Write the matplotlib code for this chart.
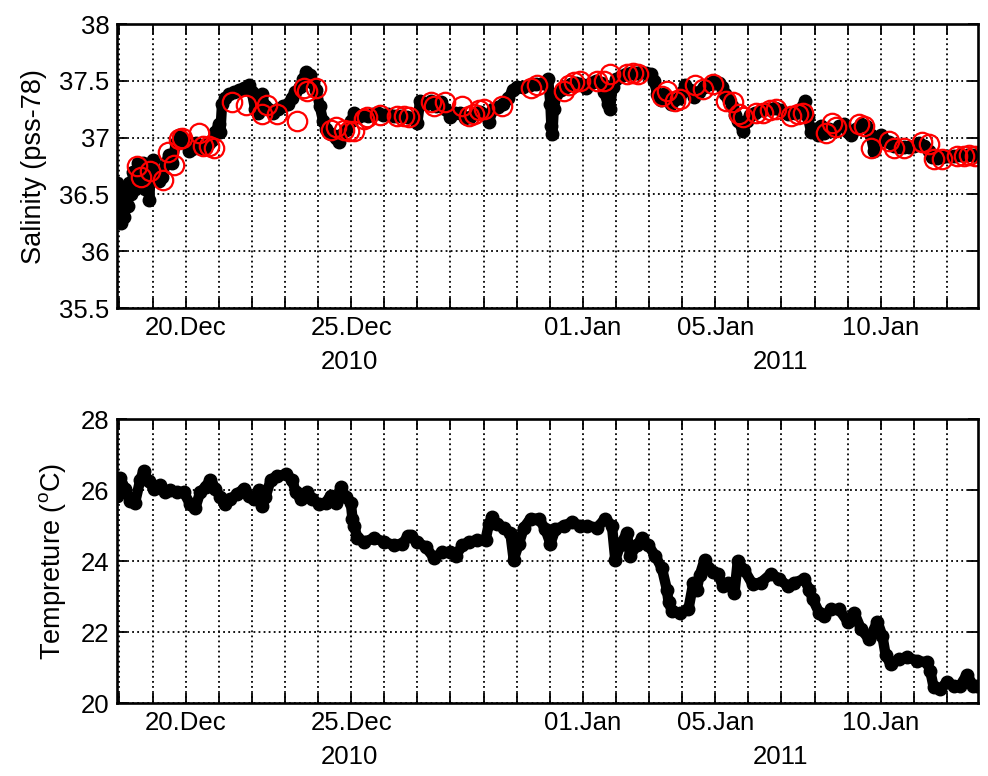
import numpy as np
import matplotlib
matplotlib.use('Agg')
import matplotlib.pyplot as plt
import matplotlib.dates as mdates
from matplotlib.ticker import FuncFormatter, MultipleLocator
from datetime import datetime

plt.rcParams['font.family'] = ['Liberation Sans', 'DejaVu Sans']
plt.rcParams['mathtext.fontset'] = 'custom'
plt.rcParams['mathtext.rm'] = 'Liberation Sans'

# [data: time in days since 2010-12-18 00:00]
sal_t = [-0.07, -0.05, -0.02, 0.00, 0.03, 0.06, 0.10, 0.15, 0.20, 0.25, 0.30, 0.35, 0.42, 0.48,
         0.55, 0.62, 0.70, 0.78, 0.85, 0.90, 0.95, 1.00, 1.10, 1.20, 1.30, 1.40, 1.50, 1.60,
         1.70, 1.80, 1.90, 2.00, 2.10, 2.20, 2.30, 2.40, 2.50, 2.60, 2.70, 2.80, 2.90, 3.00,
         3.05, 3.10, 3.20, 3.30, 3.45, 3.60, 3.75, 3.90, 4.00, 4.10, 4.20, 4.30, 4.40, 4.50,
         4.65, 4.80, 4.95, 5.10, 5.20, 5.30, 5.45, 5.55, 5.65, 5.75, 5.85, 5.95, 6.05, 6.15,
         6.25, 6.40, 6.55, 6.62, 6.70, 6.85, 7.00, 7.10, 7.20, 7.35, 7.50, 7.65, 7.80, 7.95,
         8.10, 8.30, 8.50, 8.70, 8.85, 9.00, 9.08, 9.25, 9.40, 9.55, 9.70, 9.85, 10.00, 10.15,
         10.30, 10.45, 10.60, 10.75, 10.90, 11.05, 11.15, 11.30, 11.45, 11.60, 11.75, 11.88,
         12.00, 12.20, 12.40, 12.60, 12.80, 12.95, 13.02, 13.05, 13.08, 13.12, 13.20, 13.35,
         13.50, 13.65, 13.80, 13.95, 14.10, 14.25, 14.40, 14.55, 14.65, 14.75, 14.82, 14.90,
         15.00, 15.15, 15.30, 15.45, 15.60, 15.75, 15.90, 16.05, 16.15, 16.25, 16.35, 16.45,
         16.55, 16.65, 16.75, 16.90, 17.00, 17.10, 17.25, 17.35, 17.50, 17.65, 17.80, 17.95,
         18.10, 18.20, 18.30, 18.40, 18.50, 18.60, 18.70, 18.80, 18.85, 18.95, 19.05, 19.20,
         19.40, 19.60, 19.80, 20.00, 20.20, 20.40, 20.55, 20.65, 20.72, 20.80, 20.90, 21.00,
         21.10, 21.20, 21.30, 21.45, 21.60, 21.75, 21.90, 22.00, 22.10, 22.25, 22.40, 22.55,
         22.70, 22.80, 22.85, 23.00, 23.10, 23.25, 23.40, 23.55, 23.70, 23.85, 24.00, 24.15,
         24.30, 24.45, 24.55, 24.70, 24.85, 25.00, 25.20, 25.40, 25.60, 25.80, 25.92]
sal_v = [36.60, 36.35, 36.55, 36.30, 36.45, 36.25, 36.40, 36.30, 36.50, 36.40, 36.60, 36.50, 36.70, 36.55,
         36.78, 36.62, 36.78, 36.55, 36.72, 36.45, 36.75, 36.80, 36.70, 36.62, 36.65, 36.78, 36.85, 36.78,
         36.95, 37.02, 37.00, 36.95, 36.88, 36.90, 36.95, 36.92, 36.90, 36.92, 36.95, 36.98, 37.05, 37.12,
         37.05, 37.30, 37.35, 37.38, 37.40, 37.42, 37.44, 37.46, 37.40, 37.25, 37.22, 37.38, 37.28, 37.25,
         37.22, 37.25, 37.28, 37.30, 37.35, 37.40, 37.45, 37.52, 37.58, 37.55, 37.48, 37.42, 37.28, 37.15,
         37.08, 37.03, 37.00, 36.96, 37.02, 37.07, 37.15, 37.22, 37.18, 37.20, 37.19, 37.21, 37.22, 37.20,
         37.21, 37.19, 37.19, 37.18, 37.17, 37.13, 37.32, 37.30, 37.32, 37.28, 37.31, 37.25, 37.18, 37.22,
         37.22, 37.17, 37.18, 37.22, 37.23, 37.20, 37.14, 37.25, 37.27, 37.30, 37.35, 37.42,
         37.45, 37.45, 37.46, 37.47, 37.48, 37.52, 37.30, 37.10, 37.03, 37.25, 37.38, 37.42,
         37.45, 37.47, 37.48, 37.47, 37.44, 37.48, 37.50, 37.48, 37.40, 37.30, 37.25, 37.45,
         37.52, 37.54, 37.56, 37.57, 37.57, 37.58, 37.57, 37.56, 37.50, 37.38, 37.33, 37.38,
         37.35, 37.30, 37.33, 37.35, 37.40, 37.46, 37.42, 37.36, 37.40, 37.45, 37.47, 37.50,
         37.48, 37.45, 37.38, 37.35, 37.28, 37.20, 37.15, 37.10, 37.06, 37.15, 37.20, 37.22,
         37.24, 37.25, 37.26, 37.24, 37.21, 37.22, 37.23, 37.28, 37.32, 37.18, 37.05, 37.08,
         37.02, 37.10, 37.04, 37.08, 37.06, 37.10, 37.12, 37.05, 37.02, 37.08, 37.12, 37.10,
         37.02, 36.88, 37.00, 37.02, 36.98, 36.96, 36.93, 36.92, 36.92, 36.92, 36.93, 36.95,
         36.93, 36.88, 36.83, 36.82, 36.83, 36.84, 36.84, 36.85, 36.85, 36.85, 36.84]

# [bottle samples (red circles)]
bot_t = [0.53, 0.65, 0.91, 1.31, 1.48, 1.66, 1.79, 1.89, 2.39, 2.53, 2.70, 2.85, 3.40, 3.81,
         4.31, 4.46, 4.77, 5.37, 5.58, 5.68, 5.93, 6.38, 6.54, 6.79, 6.94, 7.09, 7.39, 7.49,
         7.88, 8.40, 8.61, 8.76, 9.40, 9.50, 9.85, 10.36, 10.56, 10.71, 10.86, 11.01, 11.56,
         12.42, 12.62, 13.42, 13.57, 13.72, 13.92, 14.43, 14.63, 14.81, 15.33, 15.53, 15.68,
         16.39, 16.54, 16.79, 16.94, 17.39, 17.63, 17.93, 18.33, 18.53, 18.73, 18.83, 19.23,
         19.44, 19.64, 19.84, 20.29, 20.49, 20.64, 21.34, 21.54, 21.64, 22.35, 22.50, 22.70,
         23.25, 23.40, 23.70, 24.25, 24.46, 24.61, 24.86, 25.31, 25.51, 25.66, 25.86]
bot_v = [36.75, 36.65, 36.71, 36.63, 36.87, 36.76, 36.99, 37.00, 37.04, 36.93, 36.93, 36.91, 37.31, 37.29,
         37.21, 37.29, 37.21, 37.15, 37.44, 37.41, 37.44, 37.07, 37.09, 37.07, 37.06, 37.06, 37.16, 37.18,
         37.20, 37.19, 37.19, 37.18, 37.31, 37.28, 37.31, 37.28, 37.19, 37.21, 37.24, 37.25, 37.28,
         37.44, 37.46, 37.41, 37.46, 37.49, 37.50, 37.50, 37.50, 37.56, 37.56, 37.57, 37.56,
         37.37, 37.41, 37.32, 37.34, 37.46, 37.43, 37.47, 37.32, 37.31, 37.21, 37.18, 37.22,
         37.22, 37.24, 37.25, 37.19, 37.21, 37.22, 37.04, 37.13, 37.09, 37.12, 37.10, 36.91,
         36.97, 36.91, 36.91, 36.96, 36.94, 36.81, 36.81, 36.84, 36.84, 36.85, 36.84]

temp_t = [-0.08, 0.02, 0.17, 0.32, 0.47, 0.63, 0.73, 0.88, 1.03, 1.23, 1.38, 1.54, 1.74, 1.94,
          2.14, 2.29, 2.44, 2.60, 2.75, 2.90, 3.05, 3.20, 3.35, 3.56, 3.76, 3.91, 4.06, 4.21,
          4.31, 4.41, 4.57, 4.77, 5.02, 5.22, 5.32, 5.47, 5.68, 5.83, 6.03, 6.23, 6.38, 6.54,
          6.69, 6.84, 6.99, 7.04, 7.09, 7.19, 7.39, 7.70, 8.00, 8.30, 8.55, 8.71, 8.80, 9.00,
          9.25, 9.50, 9.75, 10.00, 10.16, 10.36, 10.56, 10.81, 11.06, 11.16, 11.26, 11.41, 11.61,
          11.81, 11.91, 12.07, 12.22, 12.42, 12.67, 12.87, 13.02, 13.17, 13.42, 13.67, 13.92,
          14.13, 14.43, 14.68, 14.88, 14.98, 15.13, 15.33, 15.43, 15.63, 15.78, 15.98, 16.19,
          16.39, 16.54, 16.59, 16.69, 16.94, 17.19, 17.34, 17.44, 17.53, 17.68, 17.78, 17.93,
          18.08, 18.23, 18.38, 18.58, 18.68, 18.88, 19.13, 19.38, 19.69, 19.94, 20.19, 20.39,
          20.69, 20.84, 20.94, 21.14, 21.29, 21.49, 21.74, 22.00, 22.20, 22.40, 22.65, 22.90,
          23.05, 23.15, 23.30, 23.55, 23.80, 24.10, 24.40, 24.50, 24.60, 24.80, 25.00, 25.20,
          25.40, 25.60, 25.80, 25.92]
temp_v = [25.85, 26.35, 26.05, 25.70, 25.65, 26.30, 26.55, 26.25, 26.05, 26.15, 25.95, 26.00, 25.95, 25.95,
          25.60, 25.50, 25.95, 26.10, 26.30, 26.05, 25.80, 25.60, 25.75, 25.90, 26.05, 25.85, 25.75, 26.00,
          25.55, 25.80, 26.30, 26.40, 26.45, 26.30, 25.95, 25.75, 25.95, 25.75, 25.60, 25.65, 25.85, 25.65,
          26.10, 25.80, 25.65, 25.20, 25.00, 24.65, 24.55, 24.65, 24.55, 24.45, 24.50, 24.70, 24.70, 24.55,
          24.40, 24.10, 24.25, 24.25, 24.15, 24.45, 24.55, 24.60, 24.60, 25.05, 25.25, 25.05, 24.95,
          24.80, 24.05, 24.50, 24.95, 25.20, 25.20, 24.90, 24.50, 24.90, 25.00, 25.10, 25.00,
          25.00, 24.95, 25.20, 25.00, 24.05, 24.45, 24.80, 24.15, 24.45, 24.65, 24.45, 24.15,
          23.80, 23.20, 22.85, 22.60, 22.55, 22.65, 23.40, 23.20, 23.60, 24.05, 23.80, 23.70,
          23.65, 23.30, 23.40, 23.10, 24.00, 23.75, 23.35, 23.40, 23.65, 23.50, 23.30, 23.40,
          23.50, 23.20, 22.95, 22.55, 22.45, 22.65, 22.65, 22.30, 22.55, 22.10, 21.80, 22.30,
          21.90, 21.35, 21.10, 21.25, 21.30, 21.20, 21.15, 20.90, 20.45, 20.40, 20.60, 20.50,
          20.50, 20.80, 20.50, 20.50]

labeled_days = [20, 25, 1, 5, 10]

# [x in matplotlib date numbers]
t0 = mdates.date2num(datetime(2010, 12, 18))
x_sal = t0 + np.array(sal_t)
x_bot = t0 + np.array(bot_t)
x_temp = t0 + np.array(temp_t)
xlim = (t0 - 0.075, t0 + 25.94)
new_year = mdates.date2num(datetime(2011, 1, 1))

FS = 18.5


def day_label(x, pos):
    d = mdates.num2date(x)
    if d.day in labeled_days:
        return d.strftime('%d.%b')
    return ''


def style_axis(ax, ylim, ystep):
    ax.set_xlim(xlim)
    ax.set_ylim(ylim)
    ax.xaxis.set_major_locator(mdates.DayLocator())
    ax.xaxis.set_major_formatter(FuncFormatter(day_label))
    ax.yaxis.set_major_locator(MultipleLocator(ystep))
    ax.yaxis.set_major_formatter(FuncFormatter(lambda v, p: '%g' % v))
    ax.tick_params(direction='in', length=7, width=1.3, top=True, right=True,
                   labelsize=FS, pad=5.5)
    ax.grid(True, color='black', linestyle=(0, (1, 1.8)), linewidth=1.3)
    for s in ax.spines.values():
        s.set_linewidth(1.9)
    tr = ax.get_xaxis_transform()
    ax.text((xlim[0] + new_year) / 2, -0.19, '2010', transform=tr,
            ha='center', va='center', fontsize=FS)
    ax.text((new_year + xlim[1]) / 2, -0.19, '2011', transform=tr,
            ha='center', va='center', fontsize=FS)


fig = plt.figure(figsize=(9.88, 7.76), dpi=100)
ax1 = fig.add_axes([0.1184, 0.603, 0.8715, 0.366])
ax2 = fig.add_axes([0.1184, 0.0937, 0.8715, 0.366])

ax1.plot(x_sal, sal_v, 'o-', color='black', markersize=9, linewidth=7.5)
ax1.plot(x_bot, bot_v, 'o', markerfacecolor='none', markeredgecolor='red',
         markersize=14, markeredgewidth=1.6)
style_axis(ax1, (35.5, 38), 0.5)
ax1.set_ylabel('Salinity (pss-78)', fontsize=19.5, labelpad=9)

ax2.plot(x_temp, temp_v, 'o-', color='black', markersize=9, linewidth=7.5)
style_axis(ax2, (20, 28), 2)
ax2.set_ylabel(r'Tempreture ($^\mathrm{o}$C)', fontsize=19.5, labelpad=9)

fig.savefig('out.png', dpi=100)
